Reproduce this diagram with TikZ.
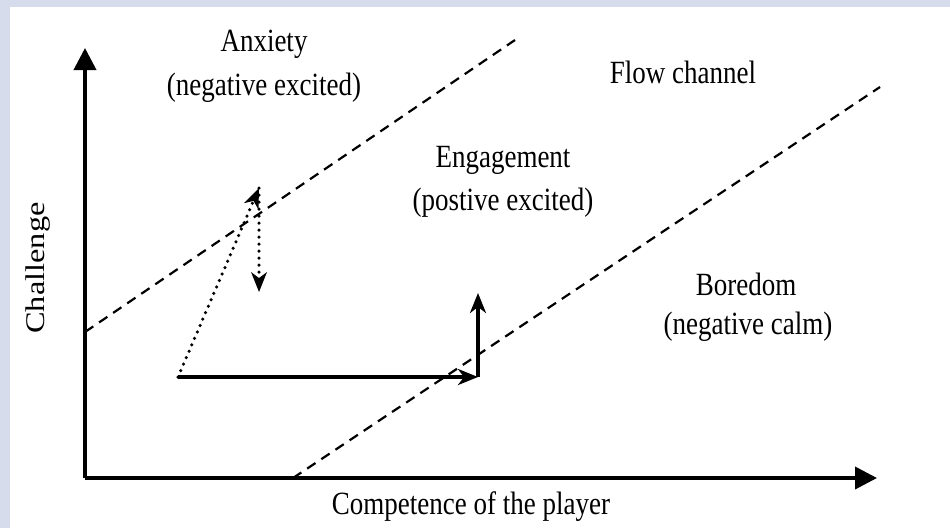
\documentclass[tikz,border=0pt]{standalone}
\usepackage{fontspec}
\setmainfont{Liberation Serif}
\usetikzlibrary{arrows.meta}

\newcommand{\tall}[1]{\scalebox{1}[1.2]{#1}}

\begin{document}
\begin{tikzpicture}[x=1pt, y=-1pt,
  lbl/.style={anchor=center, inner sep=0pt, font=\fontsize{27}{30}\selectfont},
  axis/.style={line width=3.8pt, -{Triangle[length=22pt, width=22pt]}},
  move/.style={line width=3.2pt, -{Stealth[length=20pt, width=16pt, inset=6pt]}},
  hop/.style={line width=3.5pt, dash pattern=on 0pt off 7pt, line cap=round,
    -{Stealth[length=20pt, width=16pt, inset=6pt, line width=0pt]}},
  band/.style={line width=2.2pt, dash pattern=on 10pt off 7pt}]

\definecolor{frame}{RGB}{214,220,235}

% frame
\fill [frame] (0,0) rectangle (950,528);
\fill [white] (10,7) rectangle (950,528);
\useasboundingbox (0,0) rectangle (950,528);

% points
\coordinate (O) at (85,478);
\coordinate (ytip) at (85,48);
\coordinate (xtip) at (877,478);
\coordinate (a1) at (85,332);
\coordinate (a2) at (515,40);
\coordinate (b1) at (293,478);
\coordinate (b2) at (880,87);
\coordinate (S) at (178,377);
\coordinate (C) at (478,377);
\coordinate (up) at (478,293);
\coordinate (dtop) at (259,188);
\coordinate (dbot) at (259,292);

% channel borders
\draw [band] (a1) -- (a2);
\draw [band] (b1) -- (b2);

% axes
\draw [axis] (O) -- (ytip);
\draw [axis] (O) -- (xtip);

% moves
\draw [move] (S) -- (C);
\draw [move] (C) -- (up);
\draw [hop] (S) -- (dtop);
\draw [hop] (dtop) -- (dbot);

% labels
\node [lbl] (anxiety) at (264,44) {\tall{Anxiety}};
\node [lbl] (anxietysub) at (264,88) {\tall{(negative excited)}};
\node [lbl] (flow) at (683,72) {\tall{Flow channel}};
\node [lbl] (engage) at (503,160) {\tall{Engagement}};
\node [lbl] (engagesub) at (503,203) {\tall{(postive excited)}};
\node [lbl] (boredom) at (746,284) {\tall{Boredom}};
\node [lbl] (boredomsub) at (748,327) {\tall{(negative calm)}};
\node [lbl, rotate=90] (challenge) at (38,268) {\scalebox{1.2}[1]{Challenge}};
\node [lbl] (competence) at (471,507) {\tall{Competence of the player}};

\end{tikzpicture}
\end{document}
